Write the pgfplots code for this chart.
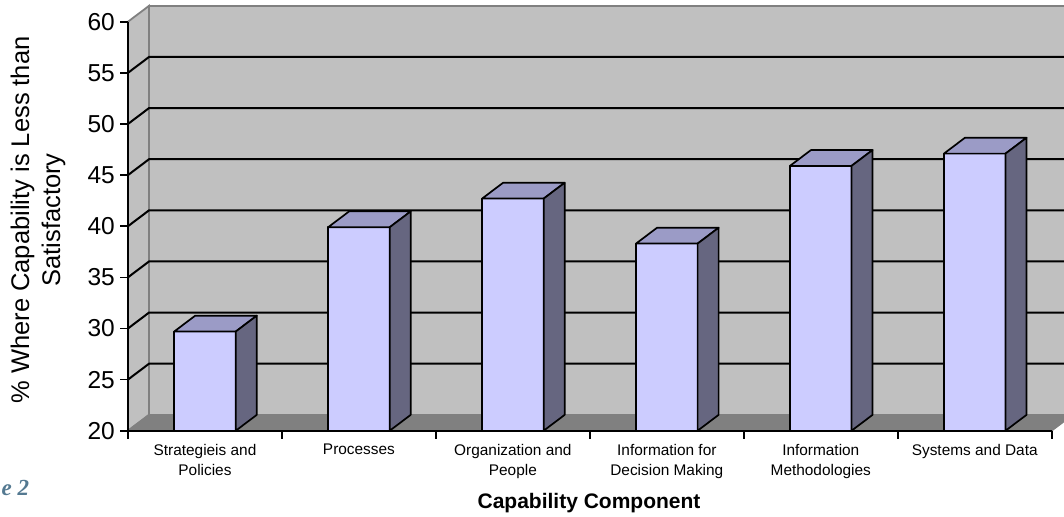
\documentclass[border=0pt]{standalone}
\usepackage{pgfplots}
\pgfplotsset{compat=1.18}
\usepackage{fontspec}
\setmainfont{Liberation Sans}
\newfontfamily\figfont{Liberation Serif}
\definecolor{wallc}{RGB}{192,192,192}
\definecolor{floorc}{RGB}{128,128,128}
\definecolor{edgec}{RGB}{128,128,128}
\definecolor{barfront}{RGB}{204,204,255}
\definecolor{bartop}{RGB}{155,155,198}
\definecolor{barside}{RGB}{102,102,128}
\definecolor{figc}{RGB}{84,121,145}
\newcommand{\DX}{0.1364}
\newcommand{\DY}{1.55}
\newcommand{\threedbar}[2]{%
  \pgfmathsetmacro{\xl}{#1-0.2}%
  \pgfmathsetmacro{\xr}{#1+0.2}%
  \pgfmathsetmacro{\xlb}{#1-0.2+\DX}%
  \pgfmathsetmacro{\xrb}{#1+0.2+\DX}%
  \pgfmathsetmacro{\vb}{#2+\DY}%
  \pgfmathsetmacro{\zb}{20+\DY}%
  \addplot[draw=black, line width=1.7pt, line join=round, fill=barfront, mark=none] coordinates {(\xl,20) (\xr,20) (\xr,#2) (\xl,#2)} -- cycle;
  \addplot[draw=black, line width=1.7pt, line join=round, fill=bartop, mark=none] coordinates {(\xl,#2) (\xr,#2) (\xrb,\vb) (\xlb,\vb)} -- cycle;
  \addplot[draw=black, line width=1.7pt, line join=round, fill=barside, mark=none] coordinates {(\xr,20) (\xrb,\zb) (\xrb,\vb) (\xr,#2)} -- cycle;
}
\begin{document}
\begin{tikzpicture}[x=1pt,y=1pt]
\begin{axis}[
  at={(128pt,-430.7pt)}, anchor=south west,
  scale only axis, width=923.7pt, height=409pt,
  xmin=-0.5, xmax=5.5, ymin=20, ymax=60,
  clip=false, axis on top,
  axis x line*=bottom, axis y line*=left,
  axis line style={black, line width=2pt, -},
  xtick={-0.5,0.5,1.5,2.5,3.5,4.5,5.5},
  x tick label as interval,
  xticklabels={{Strategieis and\\Policies},{Processes},{Organization and\\People},{Information for\\Decision Making},{Information\\Methodologies},{Systems and Data}},
  ytick={20,25,30,35,40,45,50,55,60},
  tick align=outside, major tick length=8pt,
  tick style={black, line width=1.6pt},
  /pgf/number format/assume math mode=true,
  yticklabel style={font=\fontsize{24.5}{28}\selectfont, inner sep=0pt, xshift=-5pt},
  xticklabel style={font=\fontsize{15.4}{20.7}\selectfont, align=center, anchor=north, inner sep=2pt, yshift=-3pt},
]
% back wall
\addplot[fill=wallc, draw=edgec, line width=1.8pt, mark=none] coordinates {(-0.3636,21.55) (5.6364,21.55) (5.6364,61.55) (-0.3636,61.55)} -- cycle;
% left wall
\addplot[fill=wallc, draw=edgec, line width=1.8pt, mark=none] coordinates {(-0.5,20) (-0.3636,21.55) (-0.3636,61.55) (-0.5,60)} -- cycle;
% floor
\addplot[fill=floorc, draw=edgec, line width=1.5pt, mark=none] coordinates {(-0.5,20) (5.5,20) (5.6364,21.55) (-0.3636,21.55)} -- cycle;
% gridlines
\addplot[black, line width=2pt, mark=none] coordinates {(-0.5,25) (-0.3636,26.55) (5.6364,26.55)};
\addplot[black, line width=2pt, mark=none] coordinates {(-0.5,30) (-0.3636,31.55) (5.6364,31.55)};
\addplot[black, line width=2pt, mark=none] coordinates {(-0.5,35) (-0.3636,36.55) (5.6364,36.55)};
\addplot[black, line width=2pt, mark=none] coordinates {(-0.5,40) (-0.3636,41.55) (5.6364,41.55)};
\addplot[black, line width=2pt, mark=none] coordinates {(-0.5,45) (-0.3636,46.55) (5.6364,46.55)};
\addplot[black, line width=2pt, mark=none] coordinates {(-0.5,50) (-0.3636,51.55) (5.6364,51.55)};
\addplot[black, line width=2pt, mark=none] coordinates {(-0.5,55) (-0.3636,56.55) (5.6364,56.55)};
% bars
\threedbar{0}{29.7}
\threedbar{1}{39.9}
\threedbar{2}{42.7}
\threedbar{3}{38.3}
\threedbar{4}{45.9}
\threedbar{5}{47.1}
\end{axis}
\node[rotate=90, align=center, font=\fontsize{25.5}{31}\selectfont] at (38pt,-220pt) {\% Where Capability is Less than\\Satisfactory};
\node[font=\fontsize{21}{25}\selectfont\bfseries] at (589pt,-503pt) {Capability Component};
\node[anchor=base west, inner sep=0pt, text=figc, font=\figfont\fontsize{23}{28}\selectfont\bfseries\itshape] at (1.5pt,-495pt) {e 2};
\pgfresetboundingbox
\useasboundingbox (0pt,0pt) rectangle (1064pt,-516pt);
\end{tikzpicture}
\end{document}
